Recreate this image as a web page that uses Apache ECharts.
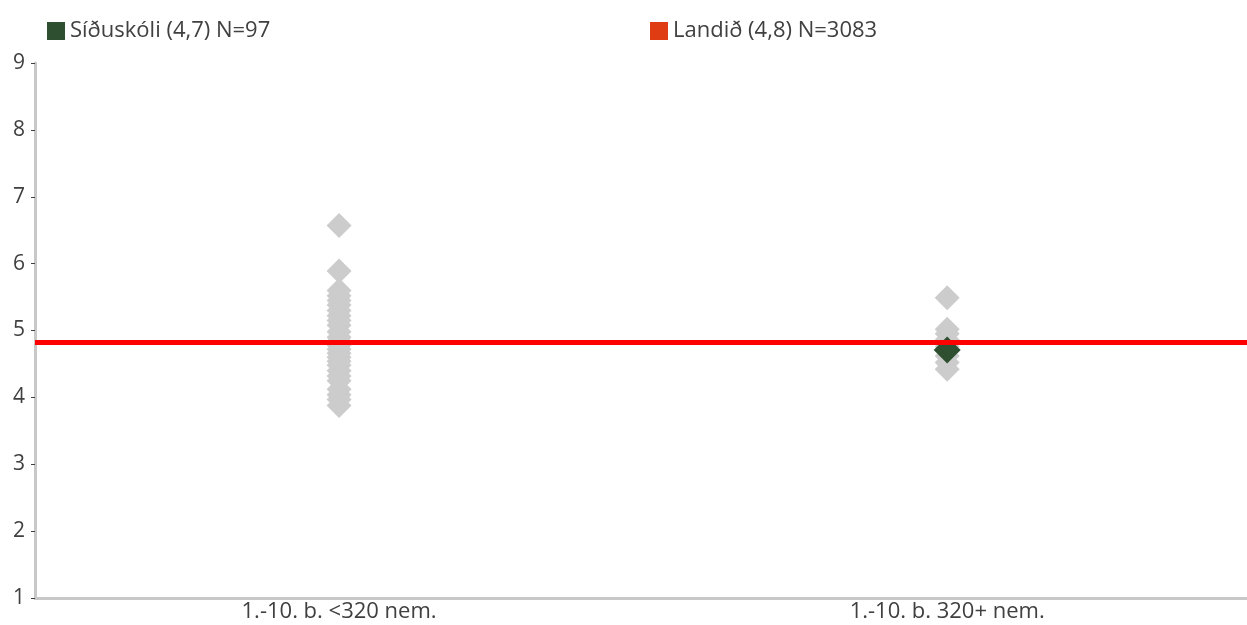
<!DOCTYPE html>
<html>
<head>
<meta charset="utf-8">
<script src="https://cdn.jsdelivr.net/npm/echarts@6/dist/echarts.min.js"></script>
<style>html,body{margin:0;padding:0;background:#fff}#c{width:1247px;height:625px}</style>
</head>
<body>
<div id="c"></div>
<script>
const categories = ['1.-10. b. <320 nem.', '1.-10. b. 320+ nem.'];
const yTicks = [1, 2, 3, 4, 5, 6, 7, 8, 9];
const schoolName = 'Síðuskóli (4,7) N=97';
const landName = 'Landið (4,8) N=3083';
const otherSmall = [6.57, 5.89, 5.6, 5.52, 5.45, 5.38, 5.3, 5.22, 5.15, 5.08, 4.98, 4.9, 4.84, 4.78, 4.72, 4.66, 4.6, 4.54, 4.48, 4.4, 4.32, 4.25, 4.12, 4.04, 3.97, 3.88];
const otherLarge = [5.49, 5.02, 4.95, 4.86, 4.76, 4.62, 4.52, 4.42];
const schoolValue = [[1, 4.71]];
const landValue = 4.83;

const grayData = otherSmall.map(v => [0, v]).concat(otherLarge.map(v => [1, v]));

const chart = echarts.init(document.getElementById('c'));
const font = '"Open Sans", Lato, sans-serif';
chart.setOption({
  animation: false,
  textStyle: { fontFamily: font },
  legend: [
    { data: [schoolName], left: 42, top: 15, icon: 'rect', itemWidth: 18, itemHeight: 18, itemGap: 10,
      textStyle: { fontSize: 22, color: '#404040', fontFamily: font } },
    { data: [landName], left: 645, top: 15, icon: 'rect', itemWidth: 18, itemHeight: 18,
      textStyle: { fontSize: 22, color: '#404040', fontFamily: font } }
  ],
  grid: { left: 35, right: 0, top: 63, bottom: 27, containLabel: false },
  xAxis: {
    type: 'value', min: -0.5, max: 1.493,
    axisLine: { onZero: false, lineStyle: { color: '#c8c8c8', width: 3 } },
    axisTick: { show: false },
    axisLabel: { fontSize: 22, color: '#404040', margin: 3, fontFamily: font,
      customValues: categories.map((c, i) => i),
      formatter: v => categories[Math.round(v)] || '' },
    splitLine: { show: false }
  },
  yAxis: {
    type: 'value', min: 1, max: 9, interval: 1,
    axisLine: { show: true, onZero: false, lineStyle: { color: '#c8c8c8', width: 3 } },
    axisTick: { show: true, length: 4, lineStyle: { color: '#404040', width: 1 } },
    axisLabel: { fontSize: 21, color: '#404040', margin: 10, fontFamily: font },
    splitLine: { show: false }
  },
  series: [
    { name: 'other', type: 'scatter', symbol: 'diamond', symbolSize: 25,
      itemStyle: { color: '#cccccc', opacity: 1 }, data: grayData, z: 2 },
    { name: landName, type: 'line', data: [], itemStyle: { color: '#e03c14' },
      markLine: { silent: true, symbol: ['none', 'none'], label: { show: false },
        lineStyle: { color: '#ff0000', width: 5, type: 'solid' },
        data: [{ yAxis: landValue }] }, z: 3 },
    { name: schoolName, type: 'scatter', symbol: 'diamond', symbolSize: 27,
      itemStyle: { color: '#2e5031', opacity: 1 }, data: schoolValue, z: 4 }
  ]
});
</script>
</body>
</html>
